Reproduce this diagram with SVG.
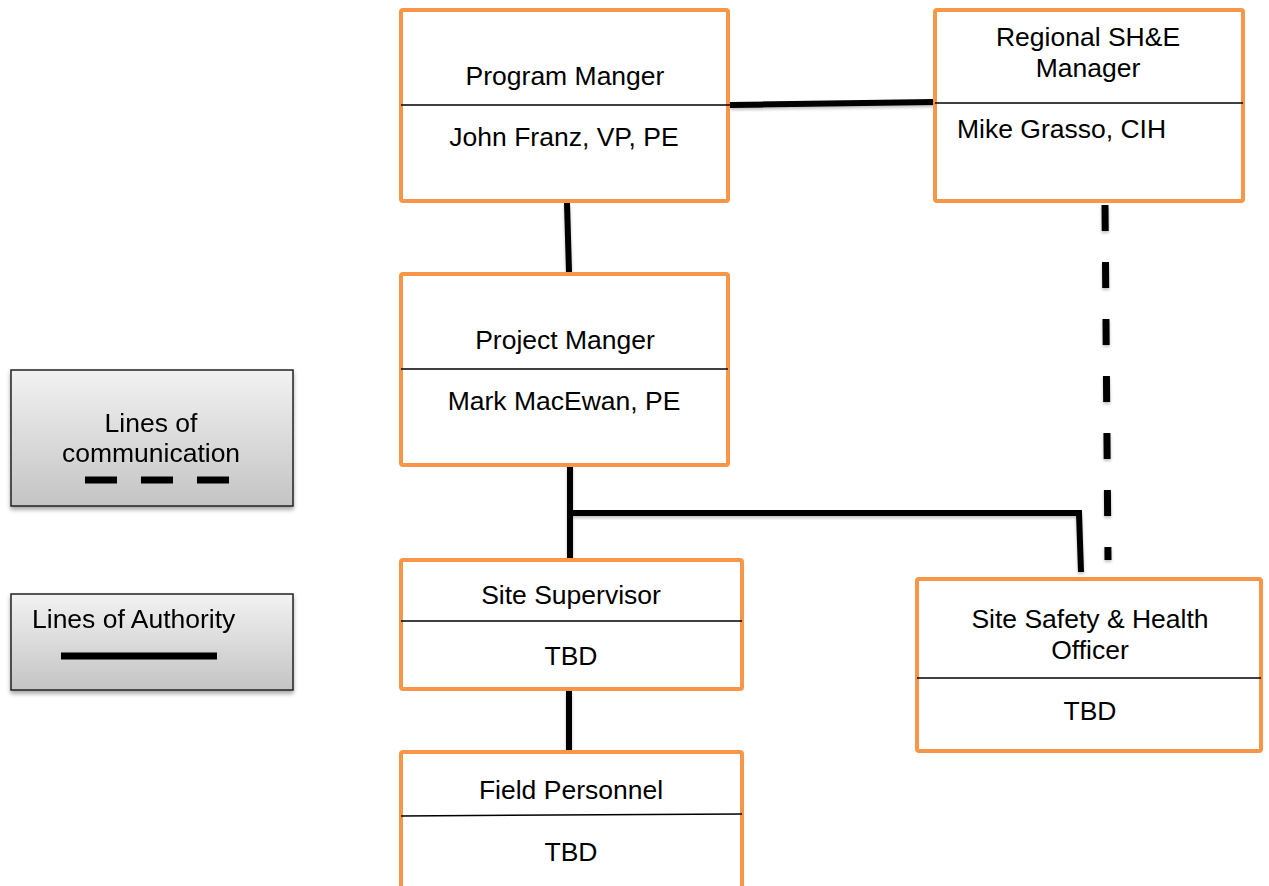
<svg xmlns="http://www.w3.org/2000/svg" width="1269" height="886" viewBox="0 0 1269 886">
  <style>
    text { font-family: "Liberation Sans", Arial, sans-serif; font-size: 26.5px; fill: #000; }
    .c { text-anchor: middle; }
    .box { fill: #fff; stroke: #F79646; stroke-width: 4; }
    .div { stroke: #000; stroke-width: 1.5; fill: none; }
    .auth { stroke: #000; stroke-width: 6; fill: none; }
    .comm { stroke: #000; stroke-width: 7; fill: none; stroke-dasharray: 26 31; }
    .legend { fill: url(#legendFill); stroke: #222; stroke-width: 1.5; }
  </style>
  <defs>
    <linearGradient id="legendFill" x1="0" y1="0" x2="0" y2="1">
      <stop offset="0" stop-color="#f2f2f2"/>
      <stop offset="1" stop-color="#c4c4c4"/>
    </linearGradient>
    <filter id="shadow" x="-10%" y="-10%" width="120%" height="130%">
      <feDropShadow dx="0" dy="3" stdDeviation="2" flood-color="#000" flood-opacity="0.35"/>
    </filter>
    <filter id="lineShadow" x="-20%" y="-20%" width="140%" height="140%">
      <feDropShadow dx="0" dy="2" stdDeviation="1.5" flood-color="#000" flood-opacity="0.25"/>
    </filter>
  </defs>

  <!-- connectors -->
  <g id="connectors" filter="url(#lineShadow)">
    <line class="auth" x1="730" y1="105" x2="935" y2="102"/>
    <line class="auth" x1="567" y1="203" x2="569" y2="272"/>
    <path class="auth" d="M570 465 V560 M570 513 H1079 L1081 572"/>
    <line class="auth" x1="569" y1="690" x2="569" y2="751"/>
    <line class="comm" x1="1105" y1="205" x2="1108" y2="560"/>
  </g>

  <!-- legend -->
  <g id="legend-communication" filter="url(#shadow)">
    <rect class="legend" x="11" y="370" width="282" height="136"/>
    <text class="c" x="151" y="432">Lines of</text>
    <text class="c" x="151" y="462">communication</text>
    <path d="M85 480 H117 M141 480 H173 M197 480 H229" stroke="#000" stroke-width="7"/>
  </g>
  <g id="legend-authority" filter="url(#shadow)">
    <rect class="legend" x="11" y="594" width="282" height="96"/>
    <text x="32" y="628">Lines of Authority</text>
    <line x1="61" y1="656" x2="217" y2="656" stroke="#000" stroke-width="7"/>
  </g>

  <!-- nodes -->
  <g id="program-manager">
    <rect class="box" x="401" y="10" width="327" height="191" rx="2"/>
    <line class="div" x1="401" y1="105" x2="730" y2="105"/>
    <text class="c" x="565" y="85">Program Manger</text>
    <text class="c" x="564" y="146">John Franz, VP, PE</text>
  </g>

  <g id="regional-she-manager">
    <rect class="box" x="935" y="10" width="308" height="191" rx="2"/>
    <line class="div" x1="935" y1="103" x2="1243" y2="103"/>
    <text class="c" x="1088" y="46">Regional SH&amp;E</text>
    <text class="c" x="1088" y="77">Manager</text>
    <text x="957" y="138">Mike Grasso, CIH</text>
  </g>

  <g id="project-manager">
    <rect class="box" x="401" y="274" width="327" height="191" rx="2"/>
    <line class="div" x1="401" y1="369" x2="728" y2="369"/>
    <text class="c" x="565" y="349">Project Manger</text>
    <text class="c" x="564" y="410">Mark MacEwan, PE</text>
  </g>

  <g id="site-supervisor">
    <rect class="box" x="401" y="560" width="341" height="129" rx="2"/>
    <line class="div" x1="401" y1="621" x2="742" y2="621"/>
    <text class="c" x="571" y="604">Site Supervisor</text>
    <text class="c" x="571" y="665">TBD</text>
  </g>

  <g id="field-personnel">
    <rect class="box" x="401" y="752" width="341" height="160" rx="2"/>
    <line class="div" x1="401" y1="816" x2="742" y2="814"/>
    <text class="c" x="571" y="799">Field Personnel</text>
    <text class="c" x="571" y="861">TBD</text>
  </g>

  <g id="site-safety-officer">
    <rect class="box" x="917" y="579" width="344" height="172" rx="2"/>
    <line class="div" x1="917" y1="678" x2="1261" y2="678"/>
    <text class="c" x="1090" y="628">Site Safety &amp; Health</text>
    <text class="c" x="1090" y="659">Officer</text>
    <text class="c" x="1090" y="720">TBD</text>
  </g>
</svg>
